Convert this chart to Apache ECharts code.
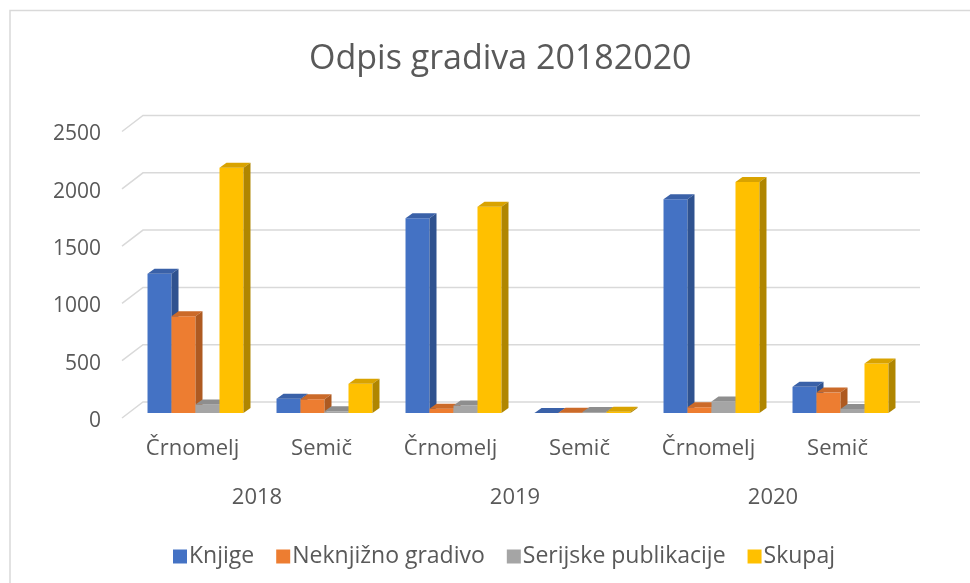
<!DOCTYPE html>
<html>
<head>
<meta charset="utf-8">
<title>Odpis gradiva</title>
<script src="https://cdn.jsdelivr.net/npm/echarts@6/dist/echarts.min.js"></script>
<style>
    html,body{margin:0;padding:0;background:#fff;}
    #myChart{width:970px;height:583px;}
</style>
</head>
<body>
<div id="myChart"></div>
<script>
    // podatki
    var categories = ['Črnomelj', 'Semič', 'Črnomelj', 'Semič', 'Črnomelj', 'Semič'];
    var years = ['2018', '2019', '2020'];
    var seriesNames = ['Knjige', 'Neknjižno gradivo', 'Serijske publikacije', 'Skupaj'];
    var knjige = [1215, 125, 1700, 1, 1865, 228];
    var neknjizno = [845, 120, 38, 2, 50, 178];
    var serijske = [75, 15, 65, 8, 100, 35];
    var skupaj = [2140, 255, 1800, 11, 2015, 432];
    var yTicks = [0, 500, 1000, 1500, 2000, 2500];

    var textColor = '#595959';
    var font = 'Open Sans';
    // front, top, side
    var palette = [
        ['#4472C4', '#3A61A8', '#2F528F'],
        ['#ED7D31', '#CB6A29', '#AE5A21'],
        ['#A5A5A5', '#8E8E8E', '#7B7B7B'],
        ['#FFC000', '#D9A300', '#B08600']
    ];
    var DX = 7, DY = 5, SHIFT = 3;

    function barSeries(idx, values) {
        var c = palette[idx];
        return {
            name: seriesNames[idx],
            type: 'custom',
            z: 3,
            itemStyle: { color: c[0] },
            data: values.map(function (v, i) { return [i, v]; }),
            encode: { x: 0, y: 1 },
            renderItem: function (params, api) {
                var i = api.value(0);
                var base = api.coord([i, 0]);
                var top = api.coord([i, api.value(1)]);
                var band = api.size([1, 0])[0];
                var w = band * 0.186;
                var x0 = base[0] - 2 * w + idx * w + SHIFT;
                var yb = base[1], yt = top[1];
                return {
                    type: 'group',
                    children: [
                        { type: 'rect', shape: { x: x0, y: yt, width: w, height: yb - yt }, style: { fill: c[0] } },
                        { type: 'polygon', shape: { points: [[x0, yt], [x0 + DX, yt - DY], [x0 + w + DX, yt - DY], [x0 + w, yt]] }, style: { fill: c[1] } },
                        { type: 'polygon', shape: { points: [[x0 + w, yt], [x0 + w + DX, yt - DY], [x0 + w + DX, yb - DY], [x0 + w, yb]] }, style: { fill: c[2] } }
                    ]
                };
            }
        };
    }

    var myChart = echarts.init(document.getElementById('myChart'));
    myChart.setOption({
        animation: false,
        title: {
            text: 'Odpis gradiva 20182020',
            left: 304,
            top: 37,
            textStyle: { fontFamily: font, fontSize: 34, fontWeight: 'normal', color: textColor }
        },
        graphic: [{
            type: 'rect',
            shape: { x: 10, y: 10.5, width: 980, height: 600 },
            style: { fill: 'none', stroke: '#d9d9d9', lineWidth: 1.5 },
            silent: true
        }],
        legend: {
            data: seriesNames,
            left: 168,
            top: 540,
            icon: 'rect',
            itemWidth: 14,
            itemHeight: 14,
            itemGap: 22,
            textStyle: { fontFamily: font, fontSize: 23, color: textColor, padding: [0, 0, 0, -3] }
        },
        grid: { left: 128, right: 68, top: 126.5, bottom: 170 },
        xAxis: [{
            type: 'category',
            data: categories,
            axisLine: { show: false },
            axisTick: { show: false },
            axisLabel: { fontFamily: font, fontSize: 22, color: textColor, margin: 25 }
        }, {
            type: 'category',
            data: years,
            position: 'bottom',
            offset: 49,
            axisLine: { show: false },
            axisTick: { show: false },
            axisLabel: { fontFamily: font, fontSize: 22, color: textColor, margin: 25 }
        }],
        yAxis: {
            type: 'value',
            min: 0,
            max: 2500,
            interval: 500,
            axisLine: { show: false },
            axisTick: { show: false },
            splitLine: { show: false },
            axisLabel: {
                fontFamily: font, fontSize: 21, color: textColor, margin: 27,
                verticalAlign: 'top', lineHeight: 16,
                formatter: function (v) { return String(v); }
            }
        },
        series: [{
            type: 'custom',
            z: 1,
            silent: true,
            data: yTicks.map(function (v) { return [0, v]; }),
            encode: { x: 0, y: 1 },
            renderItem: function (params, api) {
                // mreža na zadnji steni z diagonalo
                var y = api.coord([0, api.value(1)])[1];
                var cs = params.coordSys;
                return {
                    type: 'polyline',
                    shape: { points: [[122, y + 5], [143, y - 11], [cs.x + cs.width + 18, y - 11]] },
                    style: { fill: 'none', stroke: '#d9d9d9', lineWidth: 1.5 }
                };
            }
        },
            barSeries(0, knjige),
            barSeries(1, neknjizno),
            barSeries(2, serijske),
            barSeries(3, skupaj)
        ]
    });
</script>
</body>
</html>
